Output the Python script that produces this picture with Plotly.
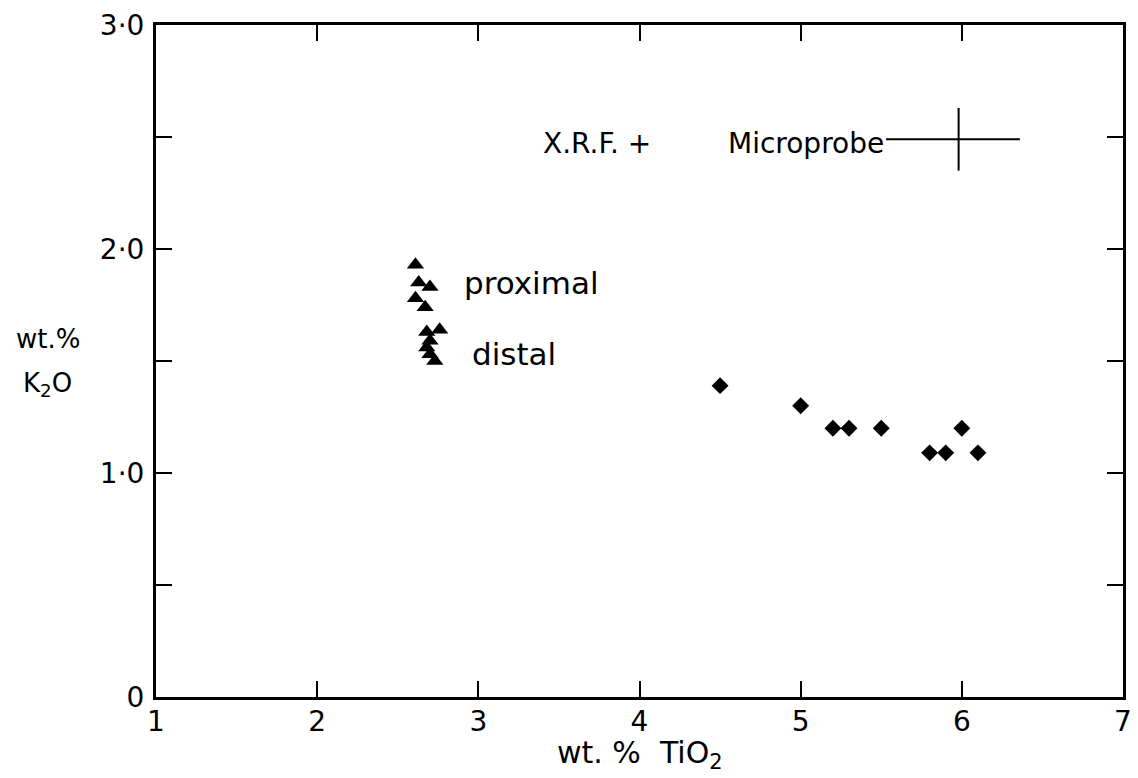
import plotly.graph_objects as go

# ---- data ----
proximal_tio2 = [2.61, 2.63, 2.70, 2.61, 2.67]
proximal_k2o = [1.93, 1.85, 1.83, 1.78, 1.74]

distal_tio2 = [2.68, 2.76, 2.70, 2.68, 2.70, 2.73]
distal_k2o = [1.63, 1.64, 1.59, 1.56, 1.53, 1.50]

probe_tio2 = [4.5, 5.0, 5.2, 5.3, 5.5, 5.8, 5.9, 6.0, 6.1]
probe_k2o = [1.39, 1.30, 1.20, 1.20, 1.20, 1.09, 1.09, 1.20, 1.09]

# error-cross key for microprobe
key_x = [5.98]
key_y = [2.49]
key_err_x_plus = [0.38]
key_err_x_minus = [0.45]
key_err_y = [0.14]

x_tickvals = [1, 2, 3, 4, 5, 6, 7]
x_ticktext = ["1", "2", "3", "4", "5", "6", "7"]
y_tickvals = [0, 0.5, 1.0, 1.5, 2.0, 2.5, 3.0]
y_ticktext = ["0", "", "1·0", "", "2·0", "", "3·0"]

FONT = "DejaVu Sans"

fig = go.Figure()

fig.add_trace(go.Scatter(
    x=proximal_tio2 + distal_tio2, y=proximal_k2o + distal_k2o,
    mode="markers", name="tephra",
    marker=dict(symbol="triangle-up", size=15, color="black"),
))
fig.add_trace(go.Scatter(
    x=probe_tio2, y=probe_k2o, mode="markers", name="microprobe",
    marker=dict(symbol="diamond", size=13, color="black"),
))
fig.add_trace(go.Scatter(
    x=key_x, y=key_y, mode="markers", name="key",
    marker=dict(size=1, color="rgba(0,0,0,0)"),
    error_x=dict(type="data", symmetric=False, array=key_err_x_plus,
                 arrayminus=key_err_x_minus, width=0, thickness=2, color="black"),
    error_y=dict(type="data", array=key_err_y, width=0, thickness=2, color="black"),
))

annots = [
    dict(x=2.90, y=1.85, text="proximal", xanchor="left", yanchor="middle", size=31),
    dict(x=2.95, y=1.53, text="distal", xanchor="left", yanchor="middle", size=31),
    dict(x=3.39, y=2.47, text="X.R.F. +", xanchor="left", yanchor="middle", size=28),
    dict(x=5.53, y=2.47, text="Microprobe", xanchor="right", yanchor="middle", size=28),
]
for a in annots:
    s = a.pop("size")
    fig.add_annotation(**a, xref="x", yref="y", showarrow=False,
                       font=dict(family=FONT, size=s, color="black"))

fig.add_annotation(x=0.500, y=-0.085, xref="paper", yref="paper", showarrow=False,
                   text="wt. %  TiO<sub>2</sub>", xanchor="center", yanchor="middle",
                   font=dict(family=FONT, size=30, color="black"))
fig.add_annotation(x=-0.112, y=0.532, xref="paper", yref="paper", showarrow=False,
                   text="wt.%", xanchor="center", yanchor="middle",
                   font=dict(family=FONT, size=26, color="black"))
fig.add_annotation(x=-0.112, y=0.465, xref="paper", yref="paper", showarrow=False,
                   text="K<sub>2</sub>O", xanchor="center", yanchor="middle",
                   font=dict(family=FONT, size=26, color="black"))

axis_common = dict(
    showline=True, linewidth=3, linecolor="black", mirror="allticks",
    ticks="inside", ticklen=16, tickwidth=2, tickcolor="black",
    showgrid=False, zeroline=False,
    tickfont=dict(family=FONT, size=28, color="black"),
)

fig.update_xaxes(range=[1, 7], tickvals=x_tickvals, ticktext=x_ticktext,
                 ticklabelstandoff=-3, **axis_common)
fig.update_yaxes(range=[0, 3], tickvals=y_tickvals, ticktext=y_ticktext,
                 ticklabelstandoff=3, **axis_common)

fig.update_layout(
    width=1138, height=778,
    margin=dict(l=156, r=6, t=25, b=81),
    plot_bgcolor="white", paper_bgcolor="white",
    showlegend=False,
)

fig.write_html("out.html")
